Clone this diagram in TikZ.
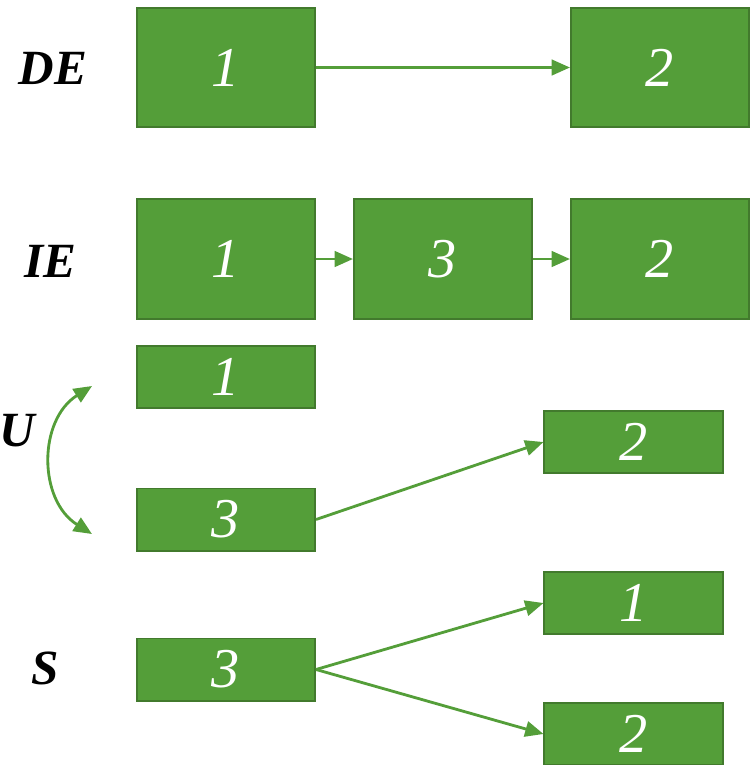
\documentclass[tikz,border=0pt]{standalone}
\usepackage{fontspec}
\setmainfont{Liberation Serif}
\usetikzlibrary{arrows.meta,positioning}
\definecolor{leaf}{RGB}{84,158,57}
\definecolor{leafdark}{RGB}{66,122,45}

\begin{document}
\begin{tikzpicture}[x=0.025cm, y=-0.025cm,
  box/.style={draw=leafdark, line width=1.4pt, fill=leaf, text=white,
    minimum width=4.45cm, font=\fontsize{40}{44}\selectfont\itshape},
  bigbox/.style={box, minimum height=2.98cm},
  smallbox/.style={box, minimum height=1.55cm},
  tag/.style={font=\fontsize{35}{40}\selectfont\bfseries\itshape},
  flow/.style={draw=leaf, line width=2pt, -{Triangle[length=13pt, width=11pt]}}]
\useasboundingbox (0,0) rectangle (755,765);

% direct effect
\node[tag] (de) at (53,68) {DE};
\node[bigbox] (d1) at (226,67.5) {1};
\node[bigbox] (d2) at (660,67.5) {2};
\draw[flow] (d1) -- (d2);

% indirect effect
\node[tag] (ie) at (50,261) {IE};
\node[bigbox] (i1) at (226,259) {1};
\node[bigbox] (i3) at (443,259) {3};
\node[bigbox] (i2) at (660,259) {2};
\draw[flow] (i1) -- (i3);
\draw[flow] (i3) -- (i2);

% U
\node[tag] (u) at (17,431) {U};
\node[smallbox] (u1) at (226,377) {1};
\node[smallbox] (u3) at (226,519.5) {3};
\node[smallbox] (u2) at (633.5,442) {2};
\draw[flow] (u3.east) -- (u2.west);
\coordinate (ut) at (92,386);
\coordinate (ub) at (92,534);
\draw[flow, {Triangle[length=13pt, width=11pt]}-{Triangle[length=13pt, width=11pt]}]
  (ut) .. controls (38,420) and (38,500) .. (ub);

% S
\node[tag] (s) at (45,668) {S};
\node[smallbox] (s3) at (226,669.5) {3};
\node[smallbox] (s1) at (633.5,603) {1};
\node[smallbox] (s2) at (633.5,734) {2};
\draw[flow] (s3.east) -- (s1.west);
\draw[flow] (s3.east) -- (s2.west);
\end{tikzpicture}
\end{document}
